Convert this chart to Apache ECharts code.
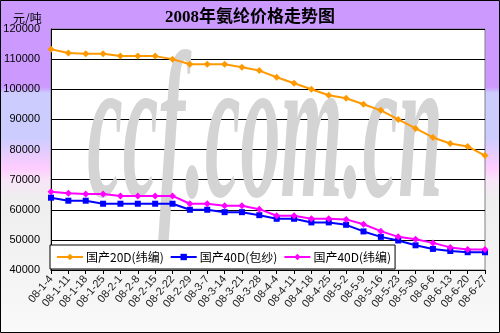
<!DOCTYPE html>
<html>
<head>
<meta charset="utf-8">
<script src="https://cdn.jsdelivr.net/npm/echarts@6/dist/echarts.min.js"></script>
<style>
html,body{margin:0;padding:0;}
#c{width:500px;height:333px;background:linear-gradient(to bottom,#cc99ff 0px,#cc99ff 87px,#ccccff 93px,#ccccff 138px,#ffccff 168px,#f8e4f8 180px,#eeeeee 198px,#f6f6f6 300px,#fafafa 333px);}
</style>
</head>
<body>
<div id="c"></div>
<script>
const categories = ['08-1-4','08-1-11','08-1-18','08-1-25','08-2-1','08-2-8','08-2-15','08-2-22','08-2-29','08-3-7','08-3-14','08-3-21','08-3-28','08-4-4','08-4-11','08-4-18','08-4-25','08-5-2','08-5-9','08-5-16','08-5-23','08-5-30','08-6-6','08-6-13','08-6-20','08-6-27'];
const domestic20D = [113300,112000,111800,111800,111000,111000,111000,110000,108300,108300,108300,107300,106200,104000,102000,100000,98000,97000,95000,93000,90000,87000,84000,82000,81000,78000];
const domestic40DCovered = [64000,63000,63000,62000,62000,62000,62000,62000,60000,60000,59200,59200,58200,57000,57000,55800,55800,55000,52800,51000,49800,48200,47000,46300,45900,45900];
const domestic40DWeft = [66000,65500,65200,65200,64600,64600,64600,64600,62000,62000,61300,61300,60200,58000,58000,57000,57000,56800,55200,52900,51000,50200,49000,47500,46800,46800];
const seriesNames = ['国产20D(纬编)','国产40D(包纱)','国产40D(纬编)'];
const yTicks = {min:40000, max:120000, interval:10000};

const chart = echarts.init(document.getElementById('c'), null, {renderer:'canvas'});
chart.setOption({
  backgroundColor: 'transparent',
  animation: false,
  title: [
    {text:'2008年氨纶价格走势图', left:'center', top:4,
     textStyle:{fontFamily:'"Liberation Serif","Noto Sans CJK SC",serif', fontWeight:'bold', fontSize:17, color:'#000'}},
    {text:'元/吨', left:8, top:7,
     textStyle:{fontFamily:'"Noto Sans CJK SC",sans-serif', fontWeight:'normal', fontSize:12, color:'#000'}}
  ],
  graphic: [
    {type:'text', x:265, y:142, z:1, silent:true, scaleY:2.6,
     style:{text:'ccf.com.cn', font:'italic bold 80px "Liberation Serif"', fill:'#d4d4d4', textAlign:'center', textVerticalAlign:'middle'}},
    {type:'rect', z:100, silent:true, shape:{x:0.5,y:0.5,width:499,height:332}, style:{fill:'none', stroke:'#000', lineWidth:1}}
  ],
  grid: {left:51, right:15, top:29, bottom:63, show:true, backgroundColor:'#fff', borderColor:'#808080', borderWidth:1, z:0},
  legend: {
    left:50, top:245, orient:'horizontal',
    backgroundColor:'#fff', borderColor:'#000', borderWidth:1, borderRadius:0,
    padding:[6,4,6,6], itemGap:6, itemWidth:26, itemHeight:8,
    textStyle:{fontFamily:'"Noto Sans CJK SC",sans-serif', fontSize:12, color:'#000', padding:[0,0,0,-2]},
    data: seriesNames
  },
  xAxis: {
    type:'category', data:categories, boundaryGap:false,
    axisLine:{lineStyle:{color:'#000', width:1}},
    axisTick:{show:true, length:4, lineStyle:{color:'#000'}},
    axisLabel:{rotate:50, fontSize:11, fontFamily:'"Liberation Sans",Arial,sans-serif', color:'#222', margin:7, interval:0},
    splitLine:{show:false}
  },
  yAxis: {
    type:'value', min:yTicks.min, max:yTicks.max, interval:yTicks.interval,
    axisLine:{show:true, lineStyle:{color:'#000', width:1}},
    axisTick:{show:false},
    axisLabel:{fontSize:11, fontFamily:'"Liberation Sans",Arial,sans-serif', color:'#000', margin:11, formatter:function(v){return String(v);}},
    splitLine:{show:true, lineStyle:{color:'#000', width:1}}
  },
  series: [
    {name:seriesNames[0], type:'line', data:domestic20D, symbol:'diamond', symbolSize:7,
     lineStyle:{color:'#ff9900', width:2}, itemStyle:{color:'#ff9900'}, z:3},
    {name:seriesNames[1], type:'line', data:domestic40DCovered, symbol:'rect', symbolSize:6,
     lineStyle:{color:'#0000ff', width:2}, itemStyle:{color:'#0000ff'}, z:3},
    {name:seriesNames[2], type:'line', data:domestic40DWeft, symbol:'diamond', symbolSize:7,
     lineStyle:{color:'#ff00ff', width:2}, itemStyle:{color:'#ff00ff'}, z:3}
  ]
});
</script>
</body>
</html>
